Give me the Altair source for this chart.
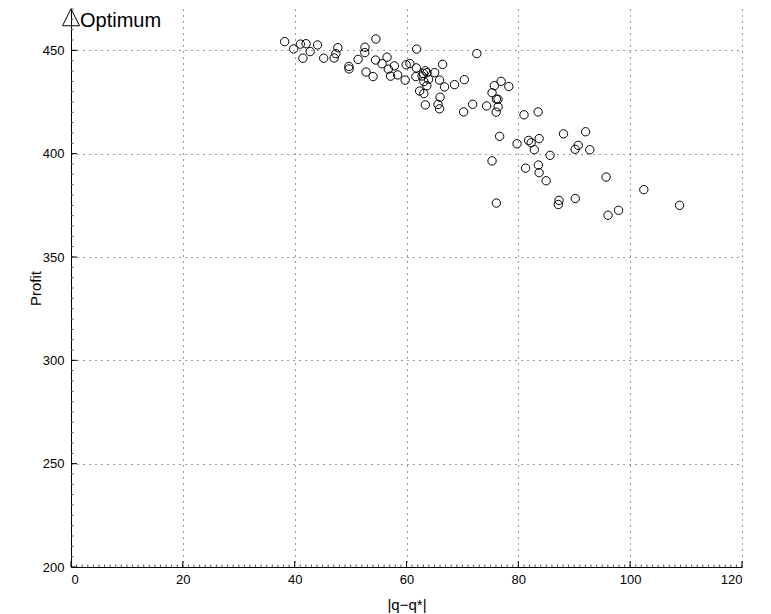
import altair as alt
import pandas as pd

# |q - q*| deviation values
dev = [38.21, 39.82, 41.02, 42.04, 41.47, 42.77, 44.09, 45.19, 47.06, 47.37,
       47.72, 49.69, 49.73, 51.34, 52.57, 52.55, 54.52, 52.77, 54.02, 54.47,
       55.63, 56.52, 56.75, 57.83, 57.15, 58.42, 59.76, 59.94, 60.60, 61.81,
       61.76, 61.67, 62.35, 62.78, 63.01, 63.37, 63.67, 63.94, 63.10, 63.64,
       63.10, 65.03, 65.91, 66.46, 66.80, 68.59, 70.34, 72.58, 66.00, 63.37,
       65.64, 65.91, 70.22, 71.83, 74.33, 75.71, 76.92, 78.30, 75.30, 76.07,
       76.37, 76.39, 76.03, 81.02, 83.54, 76.66, 79.77, 81.84, 82.29, 83.72,
       82.86, 88.08, 92.03, 90.71, 90.16, 92.78, 85.67, 75.30, 81.29, 83.58,
       83.72, 84.97, 95.70, 102.44, 108.84, 87.28, 87.15, 90.19, 96.04, 97.92,
       76.07]
# Profit values
profit = [454.2, 450.7, 453.0, 453.2, 446.2, 449.4, 452.6, 446.2, 446.3, 448.4,
          451.3, 442.2, 441.0, 445.6, 451.5, 448.9, 455.5, 439.5, 437.3, 445.3,
          443.5, 446.7, 440.9, 442.5, 437.5, 438.1, 435.6, 443.0, 443.6, 450.6,
          441.5, 437.3, 430.3, 437.6, 438.8, 440.1, 439.2, 436.0, 434.9, 432.9,
          429.1, 439.2, 435.6, 443.2, 432.3, 433.4, 435.8, 448.4, 427.3, 423.6,
          423.8, 421.7, 420.2, 423.9, 423.1, 432.9, 435.0, 432.5, 429.5, 426.4,
          426.3, 422.7, 420.1, 418.8, 420.2, 408.4, 404.8, 406.4, 405.3, 407.3,
          401.9, 409.6, 410.6, 404.0, 402.1, 401.9, 399.2, 396.5, 393.0, 394.5,
          390.8, 386.9, 388.7, 382.6, 375.0, 377.4, 375.4, 378.3, 370.2, 372.6,
          376.1]

opt_x = [0]
opt_y = [466]
opt_label = ["Optimum"]

x_major = [0, 20, 40, 60, 80, 100, 120]
y_major = [200, 250, 300, 350, 400, 450]
x_minor = list(range(0, 121, 1))
y_minor = list(range(200, 471, 5))

W, H = 671, 558
FONT = "Liberation Sans"

df = pd.DataFrame({"dev": dev, "profit": profit})
opt = pd.DataFrame({"dev": opt_x, "profit": opt_y, "label": opt_label})

xscale = alt.Scale(domain=[0, 120], nice=False, zero=False)
yscale = alt.Scale(domain=[200, 470], nice=False, zero=False)

xaxis = alt.Axis(values=x_major, grid=True, gridDash=[1, 5], gridColor="#000",
                 gridOpacity=0.8, tickSize=0, labelPadding=6, labelFontSize=13,
                 labelFont=FONT, labelColor="#000", domainColor="#000",
                 title="|q\u2212q*|", titleFont=FONT, titleFontSize=15,
                 titleFontWeight="normal", titleColor="#000", titleY=37,
                 titleBaseline="middle")
yaxis = alt.Axis(values=y_major, grid=True, gridDash=[1, 5], gridColor="#000",
                 gridOpacity=0.8, tickSize=0, labelPadding=7, labelFontSize=13,
                 labelFont=FONT, labelColor="#000", domainColor="#000",
                 title="Profit", titleFont=FONT, titleFontSize=15,
                 titleFontWeight="normal", titleColor="#000", titleX=-36,
                 titleY=H / 2, titleAngle=-90, titleBaseline="middle")

pts = alt.Chart(df).mark_point(shape="circle", filled=False, color="#000",
                               size=70, strokeWidth=1, opacity=1).encode(
    x=alt.X("dev:Q", scale=xscale, axis=xaxis),
    y=alt.Y("profit:Q", scale=yscale, axis=yaxis),
)

tri = alt.Chart(opt).mark_point(shape="M-1,1L0,-1L1,1Z", filled=False,
                                color="#000", size=289, strokeWidth=1,
                                opacity=1).encode(
    x=alt.X("dev:Q", scale=xscale), y=alt.Y("profit:Q", scale=yscale))

txt = alt.Chart(opt).mark_text(align="left", baseline="alphabetic", dx=9,
                               dy=10, font=FONT, fontSize=20,
                               color="#000").encode(
    x=alt.X("dev:Q", scale=xscale), y=alt.Y("profit:Q", scale=yscale),
    text="label:N")

xmaj = alt.Chart(pd.DataFrame({"v": x_major})).mark_rule(color="#000").encode(
    x=alt.X("v:Q", scale=xscale), y=alt.value(H), y2=alt.value(H - 6))
ymaj = alt.Chart(pd.DataFrame({"v": y_major})).mark_rule(color="#000").encode(
    y=alt.Y("v:Q", scale=yscale), x=alt.value(0), x2=alt.value(6))
xmin = alt.Chart(pd.DataFrame({"v": x_minor})).mark_rule(color="#555").encode(
    x=alt.X("v:Q", scale=xscale), y=alt.value(H), y2=alt.value(H - 2.5))
ymin = alt.Chart(pd.DataFrame({"v": y_minor})).mark_rule(color="#555").encode(
    y=alt.Y("v:Q", scale=yscale), x=alt.value(0), x2=alt.value(2.5))

chart = alt.layer(pts, xmin, ymin, xmaj, ymaj, tri, txt).properties(
    width=W, height=H,
    autosize=alt.AutoSizeParams(type="none"),
    padding={"left": 71, "top": 9, "right": 29, "bottom": 47},
    background="white",
).configure_view(stroke=None).configure_axis(domainWidth=1)

chart.save("out.html", embed_options={"renderer": "svg", "actions": False})
